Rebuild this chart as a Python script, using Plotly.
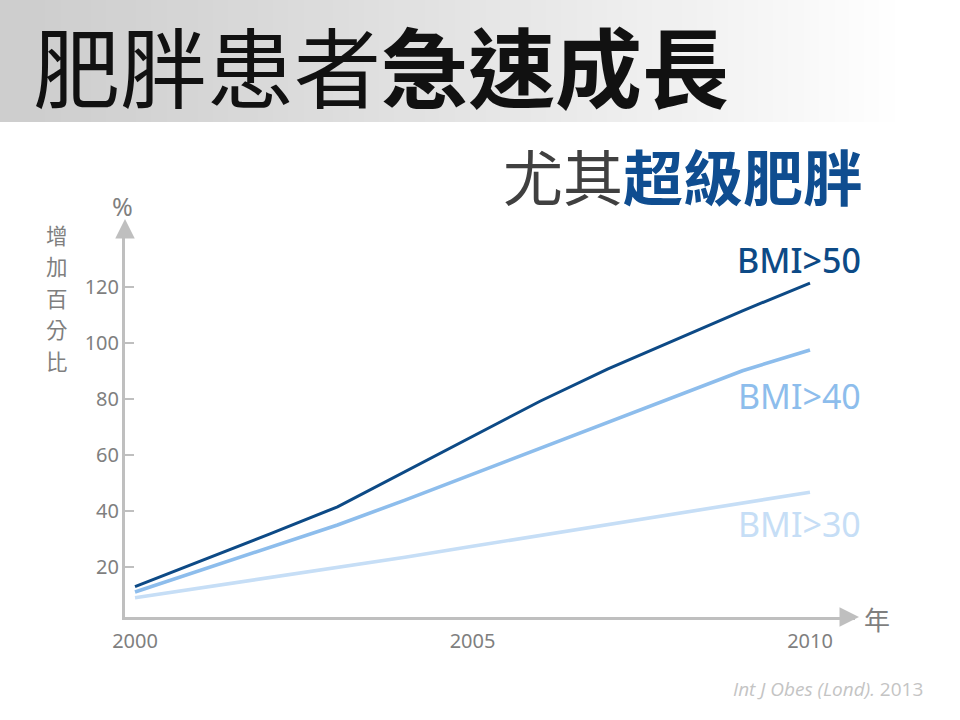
import plotly.graph_objects as go

# data
years = [2000, 2001, 2002, 2003, 2004, 2005, 2006, 2007, 2008, 2009, 2010]
bmi50 = [13.0, 22.4, 31.8, 41.5, 54.0, 66.6, 79.2, 90.7, 101.1, 111.5, 121.4]
bmi40 = [11.1, 19.1, 27.0, 35.0, 43.9, 53.2, 62.4, 71.6, 80.9, 90.1, 97.5]
bmi30 = [9.0, 12.6, 16.1, 19.7, 23.5, 27.4, 31.3, 35.1, 39.0, 42.9, 46.7]
series_names = ["BMI>50", "BMI>40", "BMI>30"]
y_ticks = [20, 40, 60, 80, 100, 120]
x_ticks = [2000, 2005, 2010]
y_caption = "增加百分比"

W, H = 960, 720
L, R, T, B = 125, 105, 225, 103
PW, PH = W - L - R, H - T - B

AXIS_GREY = "#bfbfbf"
TEXT_GREY = "#7f7f7f"
CJK = "Noto Sans CJK TC, Noto Sans CJK SC, sans-serif"
LATIN = "Noto Sans, Open Sans, sans-serif"


def px(x):
    return (x - L) / PW


def py(y):
    return (H - B - y) / PH


colors = ["#0d4a86", "#8dbdec", "#c6def6"]
widths = [3.0, 3.6, 3.6]

fig = go.Figure()
for name, vals, c, w in zip(series_names, [bmi50, bmi40, bmi30], colors, widths):
    fig.add_trace(go.Scatter(x=years, y=vals, mode="lines", name=name,
                             line=dict(color=c, width=w), hoverinfo="skip"))

# grey banner behind the title, fading to white on the right
shapes = []
n = 60
for i in range(n):
    x0 = 910 * i / n
    x1 = 910 * (i + 1) / n + 1
    t = i / (n - 1)
    g = int(206 + (255 - 206) * t ** 1.15)
    shapes.append(dict(type="rect", xref="paper", yref="paper",
                       x0=px(x0), x1=px(x1), y0=py(122), y1=py(0),
                       fillcolor=f"rgb({g},{g},{g})", line=dict(width=0),
                       layer="below"))

annotations = [
    # title
    dict(text="肥胖患者<b>急速成長</b>", x=px(31), y=py(64), xanchor="left",
         yanchor="middle", font=dict(family=CJK, size=87, color="#111111")),
    # subtitle
    dict(text='<span style="color:#404040">尤其</span><b>超級肥胖</b>',
         x=px(865), y=py(175), xanchor="right", yanchor="middle",
         font=dict(family=CJK, size=60, color="#0f4d90")),
    # series labels
    dict(text="BMI>50", x=px(863), y=py(260), xanchor="right", yanchor="middle",
         font=dict(family=LATIN, size=34, color=colors[0], weight=500)),
    dict(text="BMI>40", x=px(863), y=py(396), xanchor="right", yanchor="middle",
         font=dict(family=LATIN, size=34, color=colors[1])),
    dict(text="BMI>30", x=px(863), y=py(524), xanchor="right", yanchor="middle",
         font=dict(family=LATIN, size=34, color=colors[2])),
    # axis captions
    dict(text="%", x=px(122), y=py(206), xanchor="center", yanchor="middle",
         font=dict(family=LATIN, size=25, color=TEXT_GREY)),
    dict(text="年", x=px(877), y=py(618), xanchor="center", yanchor="middle",
         font=dict(family=CJK, size=26, color=TEXT_GREY)),
    # source
    dict(text="<i>Int J Obes (Lond).</i> 2013", x=px(925), y=py(689),
         xanchor="right", yanchor="middle",
         font=dict(family="Liberation Sans Narrow, Open Sans, sans-serif",
                   size=19, color="#c4c4c4")),
    # arrow heads
    dict(text="", x=px(125), y=py(219), ax=0, ay=14, showarrow=True,
         arrowhead=2, arrowsize=1.3, arrowwidth=3, arrowcolor=AXIS_GREY),
    dict(text="", x=px(859), y=py(617), ax=-14, ay=0, showarrow=True,
         arrowhead=2, arrowsize=1.3, arrowwidth=3, arrowcolor=AXIS_GREY),
]
# vertical y caption, one character per line
for i, ch in enumerate(y_caption):
    annotations.append(dict(text=ch, x=px(57), y=py(234 + 31.5 * i),
                            xanchor="center", yanchor="middle", borderpad=0,
                            font=dict(family=CJK, size=21.5, color=TEXT_GREY)))

for a in annotations:
    a.setdefault("xref", "paper")
    a.setdefault("yref", "paper")
    a.setdefault("showarrow", False)

x_per_px = 10 / 675
fig.update_layout(
    width=W, height=H,
    margin=dict(l=L, r=R, t=T, b=B, pad=0),
    paper_bgcolor="white", plot_bgcolor="white",
    showlegend=False,
    shapes=shapes,
    annotations=annotations,
    xaxis=dict(range=[2000 - 10 * x_per_px, 2000 + (PW - 10) * x_per_px],
               tickvals=x_ticks, ticktext=[str(v) for v in x_ticks],
               showgrid=False, zeroline=False, showline=True,
               linecolor=AXIS_GREY, linewidth=3, ticks="",
               ticklabelstandoff=4,
               tickfont=dict(family=LATIN, size=20, color=TEXT_GREY)),
    yaxis=dict(range=[(623 - 617) / 2.8, (623 - 225) / 2.8],
               tickvals=y_ticks, showgrid=False, zeroline=False,
               showline=True, linecolor=AXIS_GREY, linewidth=3,
               ticks="inside", ticklen=9, tickwidth=2, tickcolor=AXIS_GREY,
               ticklabelstandoff=-1,
               tickfont=dict(family=LATIN, size=20, color=TEXT_GREY)),
)

# the page would otherwise add the browser's default 8px body margin
fig.write_html("out.html", config={"displayModeBar": False},
               post_script="document.body.style.margin='0';")
